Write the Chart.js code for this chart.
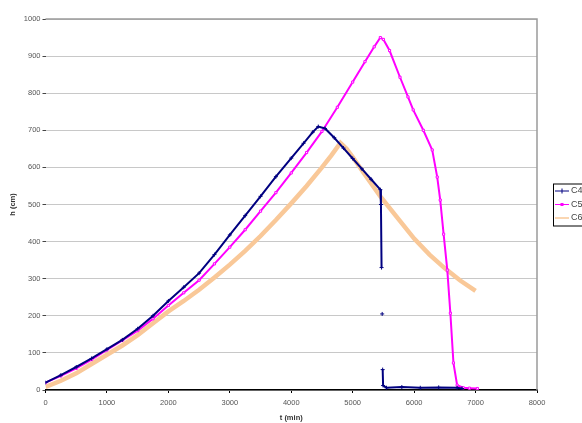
<!DOCTYPE html>
<html>
<head>
<meta charset="utf-8">
<script src="https://cdn.jsdelivr.net/npm/chart.js@4.4.1/dist/chart.umd.min.js"></script>
<style>
  html, body { margin: 0; padding: 0; background: #fff; overflow: hidden; }
  #wrap { width: 582px; height: 423px; position: relative; }
</style>
</head>
<body>
<div id="wrap"><canvas id="chart"></canvas></div>
<script>
// Axis ticks
const xTicks = [0, 1000, 2000, 3000, 4000, 5000, 6000, 7000, 8000];
const yTicks = [0, 100, 200, 300, 400, 500, 600, 700, 800, 900, 1000];

// Series names
const seriesNames = ['C4', 'C5', 'C6'];

// C4 - time (min) and h (cm), null = gap in the trace
const c4Time = [0, 250, 500, 750, 1000, 1250, 1500, 1750, 2000, 2250, 2500, 2750, 3000, 3250, 3500, 3750, 4000, 4200, 4350, 4440, 4550, 4700, 4850, 5000, 5150, 5300, 5450, 5460, 5470, 5475, 5480, 5482, 5488, 5495, 5550, 5800, 6100, 6400, 6700, 6780];
const c4Level = [20, 40, 62, 85, 110, 135, 165, 200, 240, 277, 315, 365, 418, 470, 522, 575, 625, 665, 695, 710, 705, 680, 652, 624, 596, 568, 540, 500, 330, null, 205, null, 55, 12, 6, 8, 6, 7, 6, 4];

// C5
const c5Time = [0, 250, 500, 750, 1000, 1250, 1500, 1750, 2000, 2250, 2500, 2750, 3000, 3250, 3500, 3750, 4000, 4250, 4500, 4750, 5000, 5200, 5350, 5450, 5500, 5600, 5770, 5900, 5985, 6150, 6295, 6376, 6425, 6480, 6540, 6590, 6640, 6700, 6800, 6900, 7030];
const c5Level = [20, 38, 58, 82, 108, 134, 160, 192, 228, 262, 296, 340, 385, 432, 482, 532, 585, 640, 697, 762, 830, 885, 925, 950, 945, 915, 843, 790, 755, 700, 647, 574, 512, 420, 323, 207, 73, 13, 6, 5, 4];

// C6
const c6Time = [0, 250, 500, 750, 1000, 1250, 1500, 1750, 2000, 2250, 2500, 2750, 3000, 3250, 3500, 3750, 4000, 4250, 4500, 4650, 4800, 4900, 5000, 5200, 5450, 5700, 6000, 6250, 6500, 6750, 7000];
const c6Level = [8, 25, 45, 70, 95, 120, 148, 180, 212, 240, 270, 303, 338, 375, 415, 458, 503, 550, 600, 632, 666, 650, 628, 580, 522, 470, 408, 365, 328, 295, 267];

const FONT = 'Liberation Sans, Arial, sans-serif';

function toPoints(times, levels) {
  return times.map((t, i) => ({ x: t, y: levels[i] }));
}

// Plot frame (top / right) and the boxed legend cut off by the page edge
const frameAndLegend = {
  id: 'frameAndLegend',
  afterDraw(chart) {
    const ctx = chart.ctx;
    const a = chart.chartArea;
    ctx.save();
    ctx.strokeStyle = '#9a9a9a';
    ctx.lineWidth = 1.5;
    ctx.beginPath();
    ctx.moveTo(a.left, a.top);
    ctx.lineTo(a.right, a.top);
    ctx.lineTo(a.right, a.bottom);
    ctx.stroke();

    const bx = a.right + 16;
    const by = (a.top + a.bottom) / 2 - 21;
    ctx.strokeStyle = '#000';
    ctx.lineWidth = 1;
    ctx.strokeRect(bx + 0.5, by + 0.5, 60, 42);

    ctx.font = '9px ' + FONT;
    ctx.textBaseline = 'middle';
    chart.data.datasets.forEach((ds, i) => {
      const y = by + 7.5 + i * 13.5;
      ctx.strokeStyle = ds.borderColor;
      ctx.lineWidth = i === 2 ? 1.5 : 1;
      ctx.beginPath();
      ctx.moveTo(bx + 2, y);
      ctx.lineTo(bx + 16, y);
      ctx.stroke();
      if (i === 0) {
        ctx.beginPath();
        ctx.moveTo(bx + 9, y - 2.5);
        ctx.lineTo(bx + 9, y + 2.5);
        ctx.stroke();
      } else if (i === 1) {
        ctx.strokeRect(bx + 8, y - 1, 2, 2);
      }
      ctx.fillStyle = '#444';
      ctx.fillText(ds.label, bx + 18, y);
    });
    ctx.restore();
  }
};

new Chart(document.getElementById('chart'), {
  type: 'line',
  data: {
    datasets: [{
      label: seriesNames[0],
      data: toPoints(c4Time, c4Level),
      borderColor: '#000080',
      backgroundColor: '#000080',
      borderWidth: 2,
      pointStyle: 'cross',
      pointRadius: 2,
      pointBorderWidth: 1,
      spanGaps: false,
      order: 1
    }, {
      label: seriesNames[1],
      data: toPoints(c5Time, c5Level),
      borderColor: '#ff00ff',
      backgroundColor: '#ffffff',
      borderWidth: 2,
      pointStyle: 'rect',
      pointRadius: 1.5,
      pointBorderWidth: 1,
      order: 2
    }, {
      label: seriesNames[2],
      data: toPoints(c6Time, c6Level),
      borderColor: '#f9c898',
      backgroundColor: '#f9c898',
      borderWidth: 4.5,
      pointRadius: 0,
      order: 3
    }]
  },
  options: {
    responsive: true,
    maintainAspectRatio: false,
    animation: false,
    layout: { padding: { top: 19, right: 45, left: 0, bottom: 0 } },
    plugins: {
      legend: { display: false },
      tooltip: { enabled: false }
    },
    scales: {
      x: {
        type: 'linear',
        min: 0,
        max: 8000,
        afterBuildTicks: (scale) => { scale.ticks = xTicks.map(v => ({ value: v })); },
        afterFit: (scale) => { scale.height = 33; },
        grid: { drawOnChartArea: false, tickLength: 3, tickColor: '#000' },
        border: { color: '#000', width: 1.5 },
        ticks: { font: { family: FONT, size: 7.5 }, color: '#555', padding: 5, maxRotation: 0, callback: (v) => String(v) },
        title: { display: true, text: 't (min)', font: { family: FONT, size: 7.5, weight: 'bold' }, color: '#333', padding: { top: 0, bottom: 1 } }
      },
      y: {
        min: 0,
        max: 1000,
        afterBuildTicks: (scale) => { scale.ticks = yTicks.map(v => ({ value: v })); },
        afterFit: (scale) => { scale.width = 45.5; },
        grid: { color: '#c8c8c8', lineWidth: 1, tickLength: 3, tickColor: '#444' },
        border: { display: false },
        ticks: { font: { family: FONT, size: 7.5 }, color: '#555', padding: 2, callback: (v) => String(v) },
        title: { display: true, text: 'h (cm)', font: { family: FONT, size: 7.5, weight: 'bold' }, color: '#333', padding: { top: 8, bottom: 0 } }
      }
    }
  },
  plugins: [frameAndLegend]
});
</script>
</body>
</html>
